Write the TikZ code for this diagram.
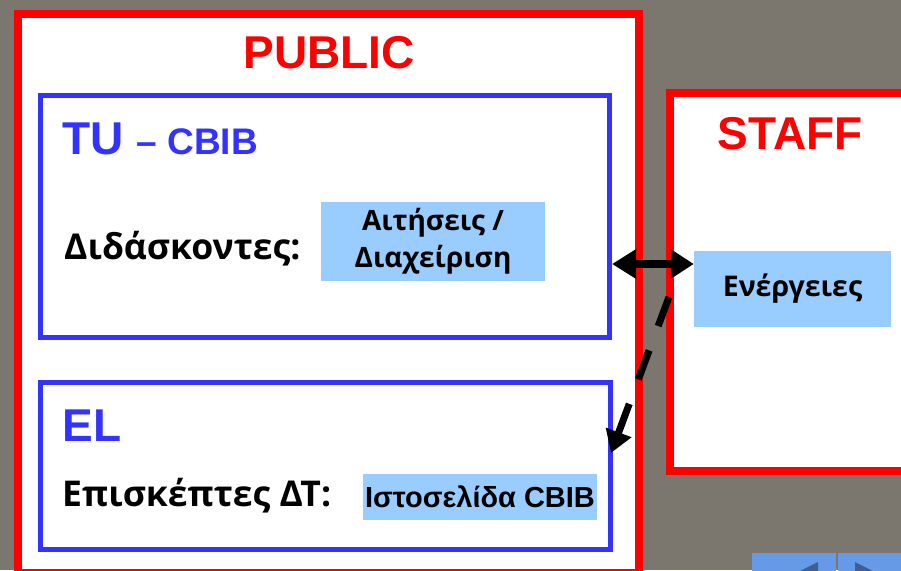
\documentclass[tikz,border=0pt]{standalone}
\usepackage{fontspec}
\setmainfont{Liberation Sans}
\newfontfamily\grfont{Open Sans}
\usetikzlibrary{positioning,arrows.meta}

\definecolor{slidebg}{HTML}{7B776E}
\definecolor{panelred}{HTML}{FF0000}
\definecolor{groupblue}{HTML}{3333FF}
\definecolor{cellblue}{HTML}{99CCFF}
\definecolor{navblue}{HTML}{6699E6}
\definecolor{navdark}{HTML}{405E90}

\begin{document}
\begin{tikzpicture}[x=1pt,y=-1pt,
    panelbox/.style={draw=panelred,line width=8pt,fill=white,inner sep=0pt},
    groupbox/.style={draw=groupblue,line width=5pt,inner sep=0pt},
    cellbox/.style={fill=cellblue,inner sep=0pt,align=center},
    bigred/.style={text=panelred,anchor=base,font=\bfseries\fontsize{46}{50}\selectfont},
    bigblue/.style={text=groupblue,anchor=base west,font=\bfseries\fontsize{46}{50}\selectfont},
    greektext/.style={anchor=base west,inner sep=0pt},
    link/.style={black,line width=8pt}]
      % Fix the frame and paint the slide background
      \useasboundingbox (0,0) rectangle (901,570);
      \clip (0,0) rectangle (901,570);
      \fill[slidebg] (0,0) rectangle (901,570);
      % Draw the two red panels
      \node[panelbox,minimum width=621pt,minimum height=559pt] (public) at (328.5,293.5) {};
      \node[panelbox,minimum width=240pt,minimum height=378pt] (staff) at (790,282) {};
      \node[bigred] (publictitle) at (329,68) {PUBLIC};
      \node[bigred] (stafftitle) at (790,149) {STAFF};
      % Draw the blue groups inside PUBLIC
      \node[groupbox,minimum width=569pt,minimum height=242pt] (tu) at (325,216.5) {};
      \node[groupbox,minimum width=570pt,minimum height=167pt] (el) at (325.5,466) {};
      \node[bigblue] (tutitle) at (59,154) {TU {\fontsize{37}{40}\selectfont – CBIB}};
      \node[bigblue] (eltitle) at (59,441) {EL};
      \node[greektext,font=\grfont\bfseries\fontsize{35.5}{40}\selectfont] (teachers) at (64,259) {Διδάσκοντες:};
      \node[greektext,font=\grfont\bfseries\fontsize{35.5}{40}\selectfont] (visitors) at (62,506) {Επισκέπτες ΔΤ:};
      % Place the light blue cells
      \node[cellbox,minimum width=224pt,minimum height=79pt,font=\grfont\bfseries\fontsize{28}{37}\selectfont] (requests) at (433,241.5) {Αιτήσεις /\\Διαχείριση};
      \node[cellbox,minimum width=197pt,minimum height=76pt,font=\grfont\bfseries\fontsize{28.5}{35}\selectfont] (actions) at (792.5,289) {Ενέργειες};
      \node[cellbox,minimum width=234pt,minimum height=46pt,font=\bfseries\fontsize{29}{34}\selectfont] (website) at (480,497) {Ιστοσελίδα CBIB};
      % Connect the panels
      \coordinate (linky) at (0,264);
      \draw[link,{Triangle[length=24pt,width=28pt]}-{Triangle[length=23pt,width=28pt]}] (tu.east |- linky) -- (actions.west |- linky);
      \coordinate (dashfrom) at (669,297);
      \coordinate (dashto) at (611,453);
      \draw[link,line width=7pt,dash pattern=on 31pt off 26pt,-{Triangle[length=22pt,width=26pt]}] (dashfrom) -- (dashto);
      % Slide navigation buttons
      \node[fill=navblue,minimum width=84pt,minimum height=30pt,inner sep=0pt,anchor=north west] (navback) at (752,553) {};
      \node[fill=navblue,minimum width=70pt,minimum height=30pt,inner sep=0pt,anchor=north west] (navnext) at (838,553) {};
      \fill[navdark] (818,562) -- (818,586) -- (794,574) -- cycle;
      \fill[navdark] (855,562) -- (855,586) -- (879,574) -- cycle;
    \end{tikzpicture}
\end{document}
